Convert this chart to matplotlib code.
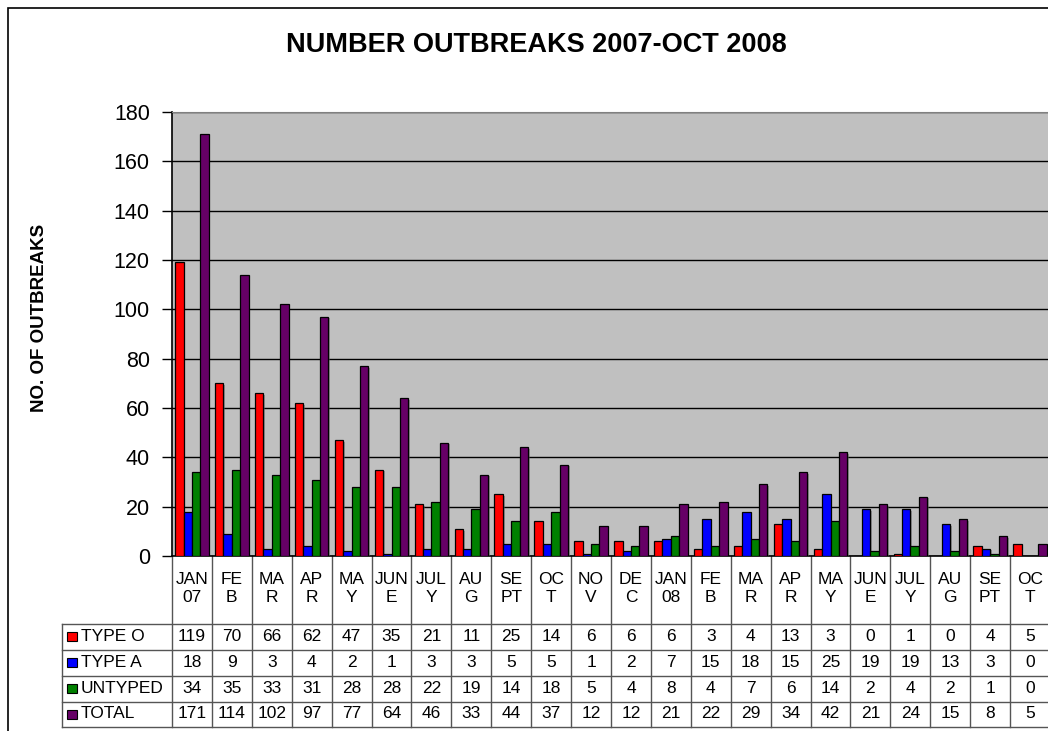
import matplotlib
matplotlib.use("Agg")
import matplotlib.pyplot as plt
from matplotlib.patches import Rectangle
from matplotlib.lines import Line2D
from matplotlib.transforms import blended_transform_factory
import matplotlib.patheffects as pe
import numpy as np

plt.rcParams['font.family'] = ['Liberation Sans', 'DejaVu Sans']

# Monthly outbreak counts, Jan 2007 - Oct 2008
months = ["JAN\n07", "FE\nB", "MA\nR", "AP\nR", "MA\nY", "JUN\nE", "JUL\nY", "AU\nG",
          "SE\nPT", "OC\nT", "NO\nV", "DE\nC", "JAN\n08", "FE\nB", "MA\nR", "AP\nR",
          "MA\nY", "JUN\nE", "JUL\nY", "AU\nG", "SE\nPT", "OC\nT"]
type_o = [119, 70, 66, 62, 47, 35, 21, 11, 25, 14, 6, 6, 6, 3, 4, 13, 3, 0, 1, 0, 4, 5]
type_a = [18, 9, 3, 4, 2, 1, 3, 3, 5, 5, 1, 2, 7, 15, 18, 15, 25, 19, 19, 13, 3, 0]
untyped = [34, 35, 33, 31, 28, 28, 22, 19, 14, 18, 5, 4, 8, 4, 7, 6, 14, 2, 4, 2, 1, 0]
total = [171, 114, 102, 97, 77, 64, 46, 33, 44, 37, 12, 12, 21, 22, 29, 34, 42, 21, 24, 15, 8, 5]

series_names = ["TYPE O", "TYPE A", "UNTYPED", "TOTAL"]
series_values = [type_o, type_a, untyped, total]
series_colors = ["#FF0000", "#0000FF", "#008000", "#660066"]
y_ticks = [0, 20, 40, 60, 80, 100, 120, 140, 160, 180]

W, H = 1048, 731
fig = plt.figure(figsize=(W / 100, H / 100), dpi=100)
fig.patch.set_facecolor("white")


def fx(p):
    return p / W


def fy(p):
    return 1 - p / H


# plot area geometry (pixels)
left_px, right_px, top_px, bottom_px = 172, 1050, 112, 556
ax = fig.add_axes([fx(left_px), fy(bottom_px), fx(right_px) - fx(left_px), fy(top_px) - fy(bottom_px)])
ax.set_facecolor("#C0C0C0")

n = len(months)
x = np.arange(n)
bw = 0.21
offsets = np.array([-1.5, -0.5, 0.5, 1.5]) * bw
shadow = [pe.SimplePatchShadow(offset=(1.2, -1.2), shadow_rgbFace="#606060", alpha=0.5), pe.Normal()]
for vals, col, off in zip(series_values, series_colors, offsets):
    bars = ax.bar(x + off, vals, width=bw, color=col, edgecolor="black", linewidth=0.9, zorder=3)
    for b in bars:
        b.set_path_effects(shadow)

ax.set_xlim(-0.5, n - 0.5)
ax.set_ylim(0, 180)
ax.set_yticks(y_ticks)
ax.set_yticklabels([str(t) for t in y_ticks], fontsize=15.5)
ax.tick_params(axis="y", length=7, width=1, pad=9, direction="out", color="black")
ax.set_xticks([])
ax.yaxis.grid(True, color="black", linewidth=1, zorder=1)
ax.set_axisbelow(True)
ax.spines["right"].set_visible(False)
ax.spines["top"].set_color("#808080")
ax.spines["left"].set_color("black")
ax.spines["bottom"].set_color("black")
ax.spines["left"].set_linewidth(1.2)
ax.spines["bottom"].set_linewidth(1.2)

# data table under the plot
tr = blended_transform_factory(ax.transData, fig.transFigure)
row_edges = [623.5, 649.5, 675.5, 701.5, 726.5]
head_top = 556
grid_col = "#555555"
fs_table = 12.5

for k in range(n + 1):
    xv = k - 0.5
    ax.add_line(Line2D([xv, xv], [fy(head_top), fy(row_edges[-1])], transform=tr,
                       color=grid_col, linewidth=1, clip_on=False))

for ry in row_edges:
    fig.add_artist(Line2D([fx(62), fx(W + 5)], [fy(ry), fy(ry)], color=grid_col, linewidth=1))
fig.add_artist(Line2D([fx(62), fx(62)], [fy(row_edges[0]), fy(row_edges[-1])], color=grid_col, linewidth=1))

for i, m in enumerate(months):
    ax.text(i, fy(589), m, transform=tr, ha="center", va="center", fontsize=fs_table,
            linespacing=1.25, clip_on=False)

for r, (name, vals, col) in enumerate(zip(series_names, series_values, series_colors)):
    yc = (row_edges[r] + row_edges[r + 1]) / 2
    fig.add_artist(Rectangle((fx(67), fy(yc + 4.5)), fx(10), fy(yc - 4.5) - fy(yc + 4.5),
                             facecolor=col, edgecolor="black", linewidth=0.8))
    fig.text(fx(81), fy(yc), name, ha="left", va="center", fontsize=fs_table)
    for i, v in enumerate(vals):
        ax.text(i, fy(yc), str(v), transform=tr, ha="center", va="center", fontsize=fs_table,
                clip_on=False)

# titles
fig.text(fx(536), fy(45), "NUMBER OUTBREAKS 2007-OCT 2008", ha="center", va="center",
         fontsize=19.5, fontweight="bold")
fig.text(fx(40), fy(318), "NO. OF OUTBREAKS", ha="center", va="center", rotation=90,
         fontsize=13.5, fontweight="bold")

# chart frame
fig.add_artist(Rectangle((fx(8), fy(H + 10)), fx(W + 20), fy(8) - fy(H + 10),
                         facecolor="none", edgecolor="black", linewidth=1.2))

fig.savefig("out.png", dpi=100)
